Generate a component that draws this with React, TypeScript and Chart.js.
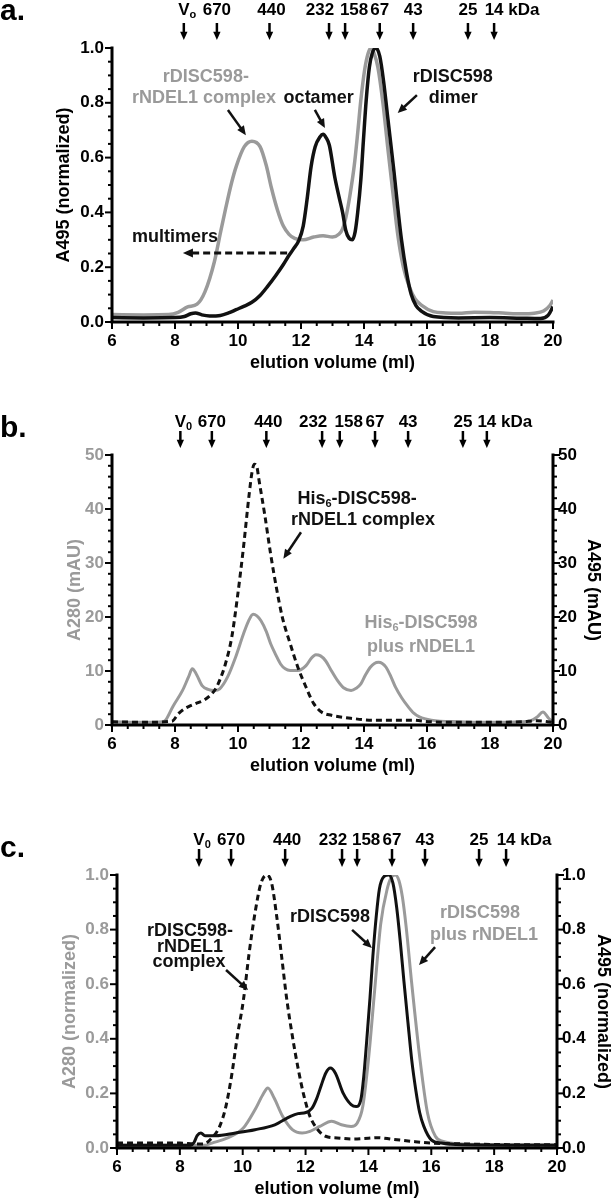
import React, { useEffect, useRef } from 'react';
import { Chart, registerables } from 'chart.js';
Chart.register(...registerables);

const FONT = '"Liberation Sans", Arial, Helvetica, sans-serif';
const GRAY = '#9a9a9a';
const BLACK = '#111111';
const W = 614;

// ---------- shared axis data ----------
const X_TICKS = [6, 8, 10, 12, 14, 16, 18, 20];
const X_TICK_LABELS = ['6', '8', '10', '12', '14', '16', '18', '20'];
const NORM_TICKS = [0, 0.2, 0.4, 0.6, 0.8, 1.0];
const NORM_LABELS = ['0.0', '0.2', '0.4', '0.6', '0.8', '1.0'];
const MAU_TICKS = [0, 10, 20, 30, 40, 50];
const MAU_LABELS = ['0', '10', '20', '30', '40', '50'];
const MARKER_NAMES = ['V', '670', '440', '232', '158', '67', '43', '25', '14'];
const MARKER_LABEL_SHIFT = [0, 0, 2, -9, 9, 0, 0, 0, 0];

// ---------- panel a ----------
const A_MARKERS = [8.28, 9.33, 11.0, 12.89, 13.4, 14.5, 15.56, 17.3, 18.13];
const A_GRAY_X = [6.0, 7.0, 7.8, 8.1, 8.4, 8.7, 8.95, 9.25, 9.45, 9.6, 9.8, 9.95, 10.2, 10.44, 10.7, 10.9, 11.06, 11.25, 11.44, 11.62, 11.8, 12.07, 12.4, 12.7, 13.0, 13.2, 13.32, 13.43, 13.55, 13.69, 13.8, 13.9, 14.02, 14.13, 14.22, 14.32, 14.44, 14.6, 14.76, 14.92, 15.07, 15.25, 15.44, 15.62, 15.82, 16.2, 16.6, 17.0, 17.5, 18.0, 18.5, 19.0, 19.4, 19.7, 19.9, 20.0];
const A_GRAY_Y = [0.027, 0.026, 0.027, 0.035, 0.055, 0.065, 0.11, 0.22, 0.33, 0.41, 0.51, 0.57, 0.64, 0.66, 0.64, 0.57, 0.49, 0.41, 0.35, 0.32, 0.305, 0.3, 0.31, 0.315, 0.31, 0.32, 0.34, 0.385, 0.46, 0.57, 0.69, 0.81, 0.92, 0.98, 1.0, 0.98, 0.93, 0.8, 0.63, 0.47, 0.32, 0.2, 0.128, 0.085, 0.062, 0.038, 0.033, 0.032, 0.036, 0.035, 0.032, 0.03, 0.032, 0.04, 0.06, 0.08];
const A_BLACK_X = [6.0, 7.0, 8.0, 8.3, 8.5, 8.65, 8.85, 9.1, 9.44, 9.7, 9.94, 10.2, 10.44, 10.7, 10.94, 11.2, 11.44, 11.6, 11.75, 11.94, 12.07, 12.19, 12.32, 12.45, 12.6, 12.7, 12.8, 12.9, 13.07, 13.2, 13.32, 13.42, 13.53, 13.63, 13.72, 13.8, 13.9, 13.98, 14.07, 14.17, 14.26, 14.38, 14.5, 14.62, 14.76, 14.95, 15.07, 15.19, 15.35, 15.5, 15.65, 15.82, 16.2, 17.0, 18.0, 19.0, 19.6, 19.85, 20.0];
const A_BLACK_Y = [0.016, 0.015, 0.016, 0.02, 0.03, 0.033, 0.026, 0.022, 0.024, 0.033, 0.045, 0.058, 0.072, 0.097, 0.13, 0.17, 0.21, 0.24, 0.265, 0.3, 0.35, 0.445, 0.567, 0.64, 0.675, 0.685, 0.672, 0.645, 0.53, 0.46, 0.4, 0.335, 0.305, 0.3, 0.33, 0.4, 0.52, 0.66, 0.81, 0.93, 0.98, 1.0, 0.97, 0.88, 0.74, 0.55, 0.42, 0.3, 0.18, 0.1, 0.06, 0.04, 0.02, 0.015, 0.016, 0.014, 0.013, 0.025, 0.056];

// ---------- panel b ----------
const B_MARKERS = [8.17, 9.17, 10.9, 12.67, 13.23, 14.35, 15.4, 17.14, 17.9];
const B_GRAY_X = [6.0, 7.0, 7.6, 7.7, 7.93, 8.24, 8.43, 8.55, 8.67, 8.86, 9.05, 9.25, 9.42, 9.67, 9.92, 10.17, 10.33, 10.48, 10.6, 10.73, 10.9, 11.04, 11.2, 11.35, 11.5, 11.66, 11.9, 12.16, 12.32, 12.47, 12.62, 12.78, 12.95, 13.15, 13.35, 13.59, 13.75, 13.9, 14.05, 14.2, 14.33, 14.46, 14.58, 14.7, 14.85, 15.0, 15.2, 15.4, 15.58, 15.76, 16.14, 17.0, 18.0, 19.0, 19.3, 19.5, 19.68, 19.87, 20.0];
const B_GRAY_Y = [0.6, 0.5, 0.6, 0.9, 3.4, 6.4, 8.9, 10.4, 9.5, 7.3, 6.6, 6.4, 6.7, 8.9, 12.5, 16.8, 19.2, 20.5, 20.2, 19.3, 17.3, 15.0, 13.0, 11.3, 10.4, 10.1, 10.1, 11.0, 12.3, 13.0, 12.8, 11.9, 10.2, 8.3, 6.9, 6.4, 6.8, 7.6, 9.3, 10.7, 11.4, 11.6, 11.4, 10.7, 9.0, 7.0, 5.0, 3.4, 2.2, 1.5, 0.9, 0.6, 0.5, 0.6, 0.8, 1.5, 2.4, 1.2, 0.6];
const B_DASH_X = [6.0, 7.0, 7.9, 8.11, 8.3, 8.43, 8.67, 8.92, 9.17, 9.3, 9.42, 9.6, 9.8, 9.98, 10.17, 10.35, 10.45, 10.52, 10.6, 10.66, 10.85, 11.04, 11.22, 11.41, 11.66, 11.9, 12.16, 12.4, 12.65, 12.97, 13.65, 14.27, 15.5, 16.1, 17.0, 18.0, 19.0, 19.5, 20.0];
const B_DASH_Y = [0.6, 0.5, 0.7, 2.1, 3.0, 3.4, 4.0, 4.6, 5.8, 6.8, 8.3, 11.3, 16.2, 23.6, 32.7, 42.5, 47.0, 48.3, 47.8, 45.6, 38.9, 31.5, 25.4, 19.9, 15.0, 10.7, 7.0, 4.0, 2.4, 1.8, 1.2, 0.9, 0.9, 0.6, 0.5, 0.5, 0.6, 0.8, 0.5];

// ---------- panel c ----------
const C_MARKERS = [8.61, 9.63, 11.35, 13.16, 13.64, 14.75, 15.8, 17.52, 18.38];
const C_DASH_X = [6.0, 8.0, 8.5, 8.75, 9.02, 9.27, 9.46, 9.64, 9.83, 10.02, 10.2, 10.39, 10.58, 10.77, 10.92, 11.08, 11.24, 11.39, 11.58, 11.77, 11.95, 12.14, 12.39, 12.64, 13.01, 13.5, 14.0, 14.26, 14.76, 15.4, 16.0, 17.0, 18.0, 19.0, 20.0];
const C_DASH_Y = [0.018, 0.018, 0.015, 0.015, 0.037, 0.08, 0.15, 0.26, 0.41, 0.54, 0.71, 0.86, 0.97, 1.0, 0.97, 0.85, 0.7, 0.555, 0.41, 0.287, 0.19, 0.116, 0.067, 0.043, 0.037, 0.033, 0.036, 0.038, 0.032, 0.024, 0.018, 0.015, 0.013, 0.012, 0.012];
const C_GRAY_X = [6.0, 8.8, 9.02, 9.52, 10.02, 10.39, 10.64, 10.8, 11.0, 11.27, 11.58, 11.89, 12.14, 12.45, 12.83, 13.14, 13.45, 13.64, 13.82, 14.01, 14.2, 14.39, 14.6, 14.72, 14.85, 14.97, 15.08, 15.2, 15.38, 15.63, 15.88, 16.13, 16.38, 17.0, 18.0, 20.0];
const C_GRAY_Y = [0.01, 0.01, 0.018, 0.037, 0.073, 0.14, 0.195, 0.22, 0.183, 0.116, 0.067, 0.055, 0.061, 0.079, 0.098, 0.085, 0.079, 0.091, 0.152, 0.335, 0.58, 0.82, 0.95, 0.99, 1.0, 0.98, 0.92, 0.81, 0.6, 0.335, 0.128, 0.043, 0.024, 0.015, 0.013, 0.012];
const C_BLACK_X = [6.0, 8.35, 8.45, 8.55, 8.67, 8.8, 9.14, 9.77, 10.39, 11.02, 11.52, 11.76, 12.01, 12.2, 12.35, 12.5, 12.64, 12.79, 12.95, 13.2, 13.45, 13.61, 13.76, 13.85, 13.95, 14.05, 14.14, 14.25, 14.35, 14.5, 14.65, 14.78, 14.9, 15.01, 15.13, 15.26, 15.38, 15.51, 15.63, 15.76, 16.0, 16.32, 17.0, 20.0];
const C_BLACK_Y = [0.01, 0.01, 0.02, 0.045, 0.055, 0.045, 0.045, 0.055, 0.067, 0.085, 0.116, 0.126, 0.13, 0.145, 0.18, 0.23, 0.274, 0.293, 0.274, 0.2, 0.159, 0.152, 0.177, 0.26, 0.4, 0.55, 0.7, 0.85, 0.95, 0.995, 1.0, 0.97, 0.88, 0.76, 0.61, 0.457, 0.32, 0.21, 0.13, 0.08, 0.03, 0.018, 0.012, 0.01];

type Seg = [string, boolean?];
interface Note { x: number; y: number; segs: Seg[]; color: string }
interface Arrow { x1: number; y1: number; x2: number; y2: number; color: string; dashed?: boolean }
interface Panel {
  letter: string; canvasTop: number; canvasH: number;
  area: { l: number; r: number; t: number; b: number };
  yMax: number; yMinor: number; yTicks: number[]; yLabels: string[];
  leftColor: string; leftTitle: string; leftTitleX: number;
  rightTitle?: string; rightTitleX?: number;
  markers: number[]; v0sub: string; markerBase: number; arrowTop: number; arrowTip: number; letterBase: number;
  notes: Note[]; arrows: Arrow[];
  datasets: any[];
}

const pts = (xs: number[], ys: number[]) => xs.map((x, i) => ({ x, y: ys[i] }));

const line = (xs: number[], ys: number[], color: string, width: number, dashed = false, axis = 'y') => ({
  data: pts(xs, ys), borderColor: color, borderWidth: width, pointRadius: 0, fill: false,
  cubicInterpolationMode: 'monotone', borderDash: dashed ? [6, 4] : [], yAxisID: axis,
});

const PANELS: Panel[] = [
  {
    letter: 'a.', canvasTop: 0, canvasH: 395,
    area: { l: 112, r: 553, t: 48, b: 322 },
    yMax: 1, yMinor: 0.05, yTicks: NORM_TICKS, yLabels: NORM_LABELS,
    leftColor: '#000', leftTitle: 'A495 (normalized)', leftTitleX: 64,
    markers: A_MARKERS, v0sub: 'o', markerBase: 15, arrowTop: 23, arrowTip: 40, letterBase: 20,
    notes: [
      { x: 8.98, y: 0.894, segs: [['rDISC598-']], color: GRAY },
      { x: 8.92, y: 0.818, segs: [['rNDEL1 complex']], color: GRAY },
      { x: 12.56, y: 0.818, segs: [['octamer']], color: BLACK },
      { x: 16.82, y: 0.894, segs: [['rDISC598']], color: BLACK },
      { x: 16.83, y: 0.818, segs: [['dimer']], color: BLACK },
      { x: 8.0, y: 0.31, segs: [['multimers']], color: BLACK },
    ],
    arrows: [
      { x1: 9.68, y1: 0.774, x2: 10.25, y2: 0.682, color: BLACK },
      { x1: 12.44, y1: 0.774, x2: 12.76, y2: 0.708, color: BLACK },
      { x1: 15.68, y1: 0.828, x2: 15.07, y2: 0.763, color: BLACK },
      { x1: 11.56, y1: 0.252, x2: 8.25, y2: 0.252, color: BLACK, dashed: true },
    ],
    datasets: [line(A_BLACK_X, A_BLACK_Y, BLACK, 3.5), line(A_GRAY_X, A_GRAY_Y, GRAY, 3.5)],
  },
  {
    letter: 'b.', canvasTop: 400, canvasH: 380,
    area: { l: 112, r: 553, t: 455, b: 725 },
    yMax: 50, yMinor: 2, yTicks: MAU_TICKS, yLabels: MAU_LABELS,
    leftColor: GRAY, leftTitle: 'A280 (mAU)', leftTitleX: 75, rightTitle: 'A495 (mAU)', rightTitleX: 593,
    markers: B_MARKERS, v0sub: '0', markerBase: 427, arrowTop: 431, arrowTip: 448, letterBase: 437,
    notes: [
      { x: 13.78, y: 41.9, segs: [['His'], ['6', true], ['-DISC598-']], color: BLACK },
      { x: 13.97, y: 37.96, segs: [['rNDEL1 complex']], color: BLACK },
      { x: 15.81, y: 18.9, segs: [['His'], ['6', true], ['-DISC598']], color: GRAY },
      { x: 15.81, y: 14.4, segs: [['plus rNDEL1']], color: GRAY },
    ],
    arrows: [{ x1: 12.0, y1: 35.7, x2: 11.44, y2: 30.8, color: BLACK }],
    datasets: [line(B_DASH_X, B_DASH_Y, BLACK, 3, true, 'y2'), line(B_GRAY_X, B_GRAY_Y, GRAY, 3)],
  },
  {
    letter: 'c.', canvasTop: 800, canvasH: 399,
    area: { l: 117, r: 557, t: 875, b: 1148 },
    yMax: 1, yMinor: 0.05, yTicks: NORM_TICKS, yLabels: NORM_LABELS,
    leftColor: GRAY, leftTitle: 'A280 (normalized)', leftTitleX: 70, rightTitle: 'A495 (normalized)', rightTitleX: 603,
    markers: C_MARKERS, v0sub: '0', markerBase: 845, arrowTop: 849, arrowTip: 867, letterBase: 857,
    notes: [
      { x: 8.32, y: 0.795, segs: [['rDISC598-']], color: BLACK },
      { x: 8.32, y: 0.736, segs: [['rNDEL1']], color: BLACK },
      { x: 8.29, y: 0.681, segs: [['complex']], color: BLACK },
      { x: 12.78, y: 0.846, segs: [['rDISC598']], color: BLACK },
      { x: 17.55, y: 0.861, segs: [['rDISC598']], color: GRAY },
      { x: 17.68, y: 0.78, segs: [['plus rNDEL1']], color: GRAY },
    ],
    arrows: [
      { x1: 9.47, y1: 0.652, x2: 10.17, y2: 0.579, color: BLACK },
      { x1: 13.48, y1: 0.799, x2: 14.11, y2: 0.733, color: BLACK },
      { x1: 16.12, y1: 0.736, x2: 15.61, y2: 0.67, color: BLACK },
    ],
    datasets: [
      line(C_DASH_X, C_DASH_Y, BLACK, 3, true, 'y2'),
      line(C_BLACK_X, C_BLACK_Y, BLACK, 3, false, 'y2'),
      line(C_GRAY_X, C_GRAY_Y, GRAY, 3),
    ],
  },
];

function arrowHead(ctx: CanvasRenderingContext2D, x1: number, y1: number, x2: number, y2: number, size: number) {
  const a = Math.atan2(y2 - y1, x2 - x1);
  ctx.beginPath();
  ctx.moveTo(x2, y2);
  ctx.lineTo(x2 - size * Math.cos(a - 0.42), y2 - size * Math.sin(a - 0.42));
  ctx.lineTo(x2 - size * Math.cos(a + 0.42), y2 - size * Math.sin(a + 0.42));
  ctx.closePath();
  ctx.fill();
}

function drawArrow(ctx: CanvasRenderingContext2D, x1: number, y1: number, x2: number, y2: number, color: string, width: number, size: number, dashed = false) {
  const a = Math.atan2(y2 - y1, x2 - x1);
  const ex = x2 - size * 0.8 * Math.cos(a);
  const ey = y2 - size * 0.8 * Math.sin(a);
  ctx.save();
  ctx.strokeStyle = color; ctx.fillStyle = color; ctx.lineWidth = width;
  ctx.setLineDash(dashed ? [7, 4] : []);
  ctx.beginPath(); ctx.moveTo(x1, y1); ctx.lineTo(ex, ey); ctx.stroke();
  ctx.setLineDash([]);
  arrowHead(ctx, x1, y1, x2, y2, size);
  ctx.restore();
}

function drawSegs(ctx: CanvasRenderingContext2D, segs: Seg[], cx: number, cy: number, size: number, color: string) {
  const main = `bold ${size}px ${FONT}`;
  const sub = `bold ${Math.round(size * 0.62)}px ${FONT}`;
  let total = 0;
  const widths = segs.map(([t, s]) => { ctx.font = s ? sub : main; const w = ctx.measureText(t).width; total += w; return w; });
  let x = cx - total / 2;
  ctx.fillStyle = color; ctx.textAlign = 'left'; ctx.textBaseline = 'middle';
  segs.forEach(([t, s], i) => {
    ctx.font = s ? sub : main;
    ctx.fillText(t, x, s ? cy + 5 : cy);
    x += widths[i];
  });
}

function makePlugin(p: Panel) {
  return {
    id: 'deco' + p.letter[0],
    afterDraw(chart: any) {
      const ctx: CanvasRenderingContext2D = chart.ctx;
      const xs = chart.scales.x; const ys = chart.scales.y;
      const { left, right, top, bottom } = chart.chartArea;
      const off = p.canvasTop;
      ctx.save();
      // axes
      ctx.strokeStyle = '#000'; ctx.lineWidth = 3; ctx.lineCap = 'square';
      ctx.beginPath(); ctx.moveTo(left, top); ctx.lineTo(left, bottom); ctx.lineTo(right, bottom);
      if (p.rightTitle) ctx.lineTo(right, top);
      ctx.stroke();
      ctx.lineCap = 'butt'; ctx.lineWidth = 2;
      for (let v = 6; v <= 20.001; v += 0.5) {
        const px = xs.getPixelForValue(v);
        const len = Math.abs(v % 2) < 1e-6 ? 7 : 4;
        ctx.beginPath(); ctx.moveTo(px, bottom); ctx.lineTo(px, bottom + len); ctx.stroke();
      }
      for (let v = 0; v <= p.yMax + 1e-6; v += p.yMinor) {
        const py = ys.getPixelForValue(v);
        const major = p.yTicks.some(t => Math.abs(t - v) < 1e-6);
        const len = major ? 7 : 4;
        ctx.beginPath(); ctx.moveTo(left - len, py); ctx.lineTo(left, py); ctx.stroke();
        if (p.rightTitle) { ctx.beginPath(); ctx.moveTo(right, py); ctx.lineTo(right + len, py); ctx.stroke(); }
      }
      // titles
      ctx.textAlign = 'center'; ctx.textBaseline = 'middle';
      ctx.font = `bold 18px ${FONT}`;
      ctx.fillStyle = '#000';
      ctx.fillText('elution volume (ml)', (left + right) / 2, bottom + 41);
      ctx.save();
      ctx.translate(p.leftTitleX, (top + bottom) / 2); ctx.rotate(-Math.PI / 2);
      ctx.fillStyle = p.leftColor; ctx.fillText(p.leftTitle, 0, 0);
      ctx.restore();
      if (p.rightTitle) {
        ctx.save();
        ctx.translate(p.rightTitleX!, (top + bottom) / 2); ctx.rotate(Math.PI / 2);
        ctx.fillStyle = '#000'; ctx.fillText(p.rightTitle, 0, 0);
        ctx.restore();
      }
      // panel letter
      ctx.textAlign = 'left'; ctx.textBaseline = 'alphabetic';
      ctx.font = `bold 30px ${FONT}`; ctx.fillStyle = '#000';
      ctx.fillText(p.letter, 0, p.letterBase - off);
      // markers
      p.markers.forEach((mx, i) => {
        const px = xs.getPixelForValue(mx);
        const lx = px + MARKER_LABEL_SHIFT[i];
        const name = MARKER_NAMES[i];
        ctx.textAlign = 'center'; ctx.textBaseline = 'alphabetic'; ctx.fillStyle = '#000';
        ctx.font = `bold 17px ${FONT}`;
        ctx.fillText(name, lx, p.markerBase - off);
        const w = ctx.measureText(name).width;
        if (i === 0) {
          ctx.font = `bold 11px ${FONT}`; ctx.textAlign = 'left';
          ctx.fillText(p.v0sub, lx + w / 2, p.markerBase - off + 3);
        }
        if (i === MARKER_NAMES.length - 1) {
          ctx.textAlign = 'left';
          ctx.fillText(' kDa', lx + w / 2, p.markerBase - off);
        }
        drawArrow(ctx, px, p.arrowTop - off, px, p.arrowTip - off, '#000', 2.5, 9);
      });
      // notes
      p.notes.forEach(n => drawSegs(ctx, n.segs, xs.getPixelForValue(n.x), ys.getPixelForValue(n.y), 18, n.color));
      p.arrows.forEach(a => drawArrow(ctx, xs.getPixelForValue(a.x1), ys.getPixelForValue(a.y1), xs.getPixelForValue(a.x2), ys.getPixelForValue(a.y2), a.color, a.dashed ? 3 : 2.5, a.dashed ? 11 : 10, a.dashed));
      ctx.restore();
    },
  };
}

function makeConfig(p: Panel): any {
  const font = { family: FONT, size: 17, weight: 'bold' as const };
  const yAxis = (pos: 'left' | 'right', color: string) => ({
    type: 'linear', position: pos, min: 0, max: p.yMax,
    afterBuildTicks: (s: any) => { s.ticks = p.yTicks.map(v => ({ value: v })); },
    afterFit: (s: any) => { s.width = pos === 'left' ? p.area.l : W - p.area.r; },
    ticks: { callback: (_v: any, i: number) => p.yLabels[i], font, color, padding: pos === 'left' ? 8 : 5, autoSkip: false },
    grid: { display: false, drawTicks: false }, border: { display: false },
  });
  const scales: any = {
    x: {
      type: 'linear', min: 6, max: 20,
      afterBuildTicks: (s: any) => { s.ticks = X_TICKS.map(v => ({ value: v })); },
      afterFit: (s: any) => { s.height = p.canvasTop + p.canvasH - p.area.b; },
      ticks: { callback: (_v: any, i: number) => X_TICK_LABELS[i], font, color: '#000', padding: 9, maxRotation: 0, autoSkip: false },
      grid: { display: false, drawTicks: false }, border: { display: false },
    },
    y: yAxis('left', p.leftColor),
  };
  if (p.rightTitle) scales.y2 = yAxis('right', '#000');
  return {
    type: 'line',
    data: { datasets: p.datasets },
    options: {
      responsive: false, maintainAspectRatio: false, animation: false,
      parsing: true, normalized: true,
      layout: { padding: { top: p.area.t - p.canvasTop, left: 0, right: p.rightTitle ? 0 : W - p.area.r, bottom: 0 } },
      plugins: { legend: { display: false }, tooltip: { enabled: false }, title: { display: false } },
      scales,
    },
    plugins: [makePlugin(p)],
  };
}

export default function App() {
  const refs = [useRef<HTMLCanvasElement>(null), useRef<HTMLCanvasElement>(null), useRef<HTMLCanvasElement>(null)];
  useEffect(() => {
    document.body.style.margin = '0';
    document.body.style.background = '#fff';
    const charts = PANELS.map((p, i) => new Chart(refs[i].current!, makeConfig(p)));
    return () => charts.forEach(c => c.destroy());
  }, []);
  return (
    <div style={{ position: 'absolute', left: 0, top: 0, width: W, height: 1199, background: '#fff' }}>
      {PANELS.map((p, i) => (
        <canvas key={p.letter} ref={refs[i]} width={W} height={p.canvasH}
          style={{ position: 'absolute', left: 0, top: p.canvasTop, width: W, height: p.canvasH }} />
      ))}
    </div>
  );
}
